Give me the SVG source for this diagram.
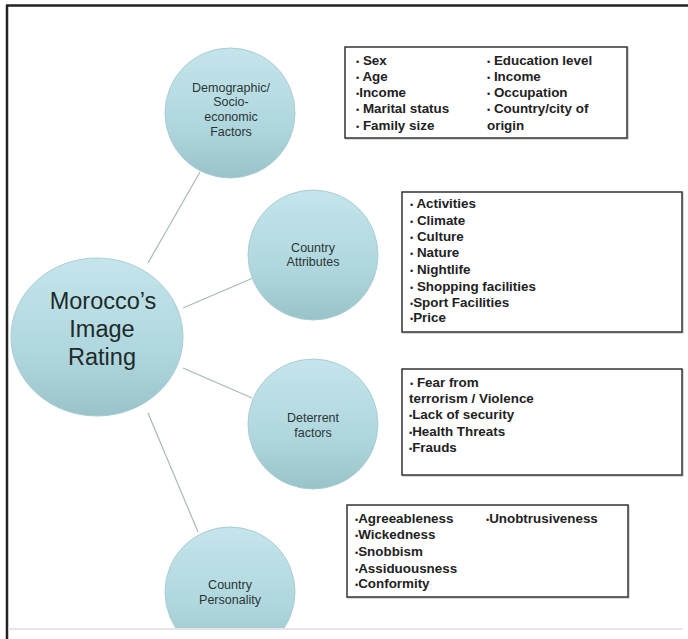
<svg xmlns="http://www.w3.org/2000/svg" width="688" height="639" viewBox="0 0 688 639">
<defs>
<linearGradient id="bub" x1="0" y1="0" x2="0" y2="1">
<stop offset="0" stop-color="#c4e5eb"/>
<stop offset="0.6" stop-color="#b0d7de"/>
<stop offset="1" stop-color="#99c2c9"/>
</linearGradient>
<clipPath id="pageclip"><rect x="0" y="0" width="688" height="628"/></clipPath>
<style>
.bub{fill:url(#bub);stroke:#a9cdd3;stroke-width:1}
.lbl{font-family:"Liberation Sans",Arial,sans-serif;font-size:12.5px;fill:#2b3535;text-anchor:middle}
.big{font-family:"Liberation Sans",Arial,sans-serif;font-size:23.5px;fill:#1f2a2a;text-anchor:middle}
.box{fill:#ffffff;stroke:#333;stroke-width:1.5}
.shadow{fill:none;stroke:#ccc;stroke-width:1.5}
.itm{font-family:"Liberation Sans",Arial,sans-serif;font-size:13.4px;font-weight:bold;fill:#222}
.b{font-size:9px;font-weight:normal}
.conn{stroke:#a8b8ba;stroke-width:1.2;fill:none}
</style>
</defs>
<rect x="0" y="0" width="688" height="639" fill="#ffffff"/>
<g id="frame">
<line x1="6" y1="5.5" x2="688" y2="5.5" stroke="#222" stroke-width="2.5"/>
<line x1="7" y1="5" x2="7" y2="639" stroke="#222" stroke-width="2.5"/>
<line x1="8" y1="629" x2="683" y2="629" stroke="#dcdcdc" stroke-width="1.5"/>
</g>
<g id="connectors">
<line class="conn" x1="148" y1="263" x2="200" y2="172"/>
<line class="conn" x1="183" y1="308" x2="253" y2="278"/>
<line class="conn" x1="183" y1="368" x2="252" y2="398"/>
<line class="conn" x1="148" y1="413" x2="198" y2="532"/>
</g>
<g id="node-morocco">
<ellipse class="bub" cx="97" cy="337" rx="86" ry="79"/>
<text class="big" x="103" y="309">Morocco’s</text>
<text class="big" x="102" y="337">Image</text>
<text class="big" x="102" y="365">Rating</text>
</g>
<g id="node-demographic">
<circle class="bub" cx="230" cy="113" r="65"/>
<text class="lbl" x="231" y="92">Demographic/</text>
<text class="lbl" x="231" y="106">Socio-</text>
<text class="lbl" x="231" y="121">economic</text>
<text class="lbl" x="231" y="136">Factors</text>
</g>
<g id="node-attributes">
<circle class="bub" cx="313" cy="255" r="65"/>
<text class="lbl" x="313" y="252">Country</text>
<text class="lbl" x="313" y="266">Attributes</text>
</g>
<g id="node-deterrent">
<circle class="bub" cx="313" cy="424" r="65"/>
<text class="lbl" x="313" y="422">Deterrent</text>
<text class="lbl" x="313" y="437">factors</text>
</g>
<g id="node-personality">
<circle class="bub" cx="230" cy="592" r="65" clip-path="url(#pageclip)"/>
<text class="lbl" x="230" y="589">Country</text>
<text class="lbl" x="230" y="604">Personality</text>
</g>
<g id="box-demographic">
<rect class="shadow" x="346" y="48" width="282" height="91"/>
<rect class="box" x="345" y="47" width="282" height="91"/>
<text class="itm" x="356" y="65"><tspan class="b">•</tspan> Sex</text>
<text class="itm" x="356" y="81"><tspan class="b">•</tspan> Age</text>
<text class="itm" x="356" y="97"><tspan class="b">•</tspan>Income</text>
<text class="itm" x="356" y="113"><tspan class="b">•</tspan> Marital status</text>
<text class="itm" x="356" y="130"><tspan class="b">•</tspan> Family size</text>
<text class="itm" x="487" y="65"><tspan class="b">•</tspan> Education level</text>
<text class="itm" x="487" y="81"><tspan class="b">•</tspan> Income</text>
<text class="itm" x="487" y="97"><tspan class="b">•</tspan> Occupation</text>
<text class="itm" x="487" y="113"><tspan class="b">•</tspan> Country/city of</text>
<text class="itm" x="487" y="130">origin</text>
</g>
<g id="box-attributes">
<rect class="shadow" x="403" y="193" width="280" height="140"/>
<rect class="box" x="402" y="192" width="280" height="140"/>
<text class="itm" x="410" y="208"><tspan class="b">•</tspan> Activities</text>
<text class="itm" x="410" y="225"><tspan class="b">•</tspan> Climate</text>
<text class="itm" x="410" y="241"><tspan class="b">•</tspan> Culture</text>
<text class="itm" x="410" y="257"><tspan class="b">•</tspan> Nature</text>
<text class="itm" x="410" y="274"><tspan class="b">•</tspan> Nightlife</text>
<text class="itm" x="410" y="291"><tspan class="b">•</tspan> Shopping facilities</text>
<text class="itm" x="410" y="307"><tspan class="b">•</tspan>Sport Facilities</text>
<text class="itm" x="410" y="322"><tspan class="b">•</tspan>Price</text>
</g>
<g id="box-deterrent">
<rect class="shadow" x="403" y="370" width="280" height="106"/>
<rect class="box" x="402" y="369" width="280" height="106"/>
<text class="itm" x="410" y="387"><tspan class="b">•</tspan> Fear from</text>
<text class="itm" x="409" y="403">terrorism / Violence</text>
<text class="itm" x="409" y="419"><tspan class="b">•</tspan>Lack of security</text>
<text class="itm" x="409" y="436"><tspan class="b">•</tspan>Health Threats</text>
<text class="itm" x="409" y="452"><tspan class="b">•</tspan>Frauds</text>
</g>
<g id="box-personality">
<rect class="shadow" x="348" y="506" width="281" height="92"/>
<rect class="box" x="347" y="505" width="281" height="92"/>
<text class="itm" x="355" y="523"><tspan class="b">•</tspan>Agreeableness</text>
<text class="itm" x="355" y="539"><tspan class="b">•</tspan>Wickedness</text>
<text class="itm" x="355" y="556"><tspan class="b">•</tspan>Snobbism</text>
<text class="itm" x="355" y="573"><tspan class="b">•</tspan>Assiduousness</text>
<text class="itm" x="355" y="588"><tspan class="b">•</tspan>Conformity</text>
<text class="itm" x="486" y="523"><tspan class="b">•</tspan>Unobtrusiveness</text>
</g>
</svg>
